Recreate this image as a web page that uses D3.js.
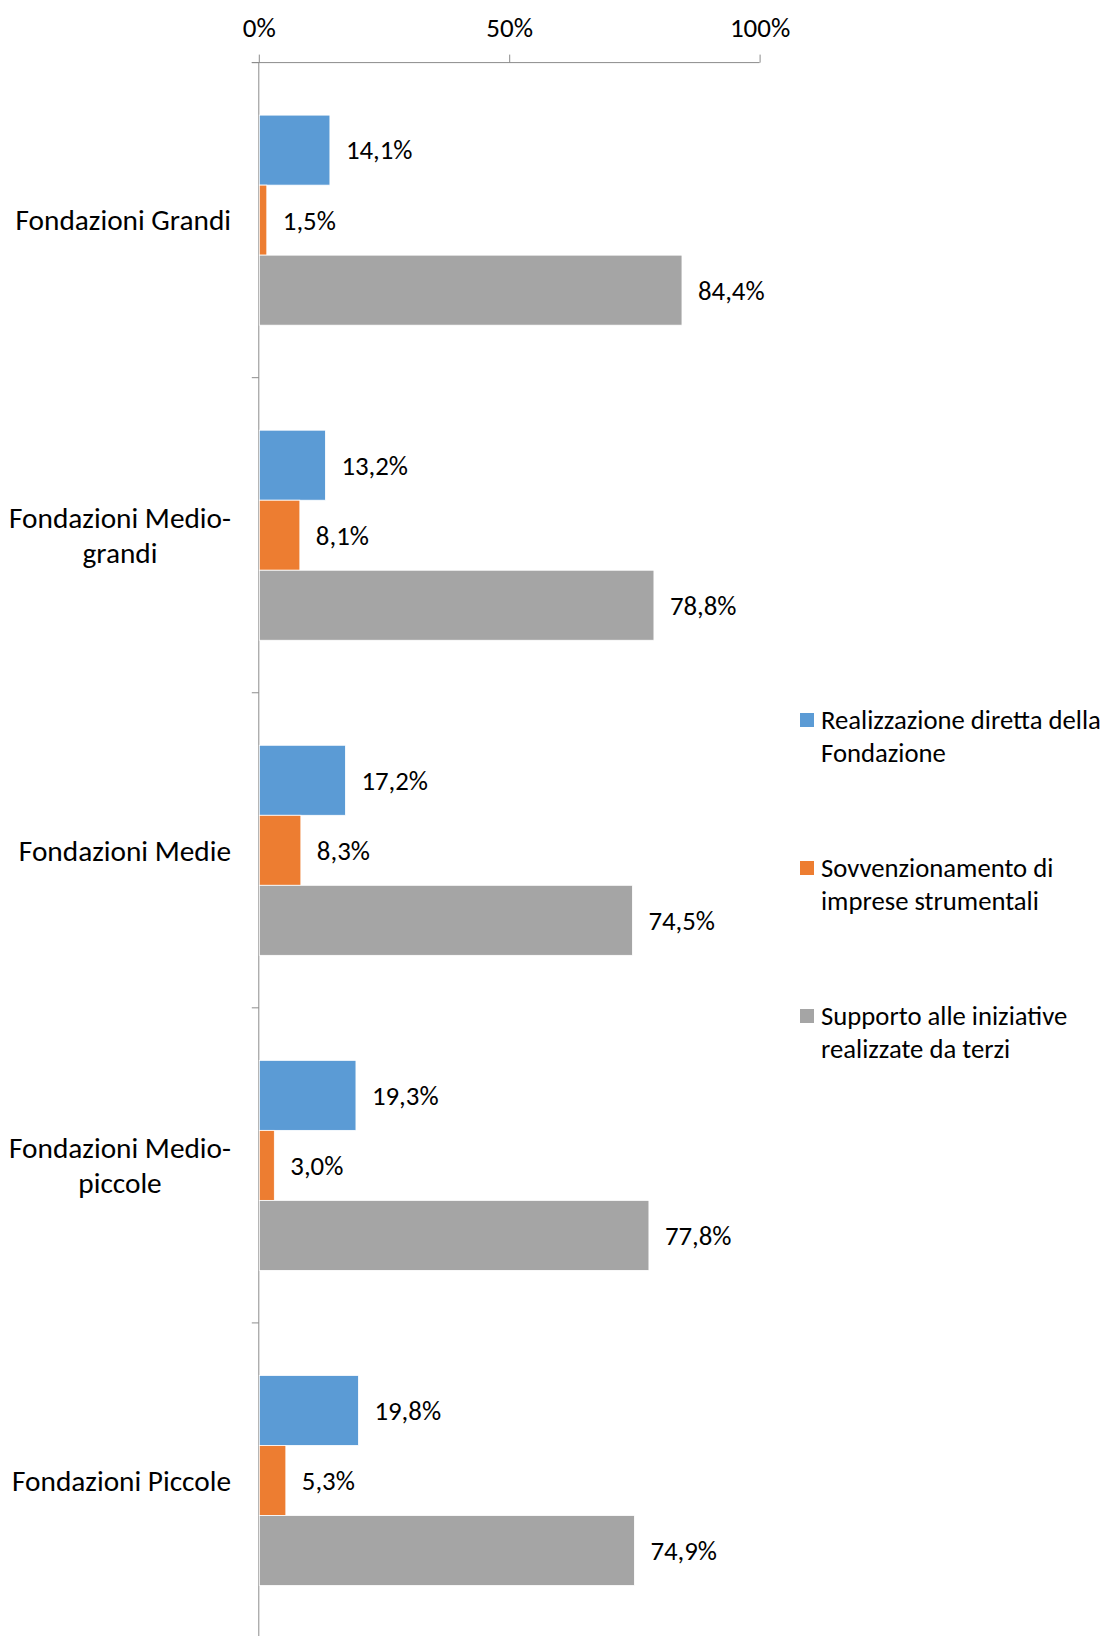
<!DOCTYPE html>
<html><head><meta charset="utf-8">
<script src="https://cdn.jsdelivr.net/npm/d3@7"></script>
<style>body{margin:0;background:#fff}svg{display:block}</style>
</head><body><svg id="c" width="1105" height="1636"></svg>
<script>
const categories = ["Fondazioni Grandi","Fondazioni Medio-grandi","Fondazioni Medie","Fondazioni Medio-piccole","Fondazioni Piccole"];
const categoryLines = [["Fondazioni Grandi"],["Fondazioni Medio-","grandi"],["Fondazioni Medie"],["Fondazioni Medio-","piccole"],["Fondazioni Piccole"]];
const seriesNames = ["Realizzazione diretta della Fondazione","Sovvenzionamento di imprese strumentali","Supporto alle iniziative realizzate da terzi"];
const legendLines = [["Realizzazione diretta della","Fondazione"],["Sovvenzionamento di","imprese strumentali"],["Supporto alle iniziative","realizzate da terzi"]];
const diretta = [14.1,13.2,17.2,19.3,19.8];
const sovvenzionamento = [1.5,8.1,8.3,3.0,5.3];
const supporto = [84.4,78.8,74.5,77.8,74.9];
const tickValues = [0,50,100];
const tickLabels = ["0%","50%","100%"];
const colors = ["#5B9BD5","#ED7D31","#A5A5A5"];

const FONT = "Carlito, Calibri, Lato, sans-serif";
const series = [diretta, sovvenzionamento, supporto];
const svg = d3.select("#c");
const x = d3.scaleLinear().domain([0,100]).range([258.8, 759.6]);
const y = d3.scaleBand().domain(categories).range([62.6, 1638]).paddingInner(1/3).paddingOuter(1/6);
const ys = d3.scaleBand().domain(d3.range(3)).range([0, y.bandwidth()]);
const step = y.step();
const axisColor = "#8c8c8c";
const fmt = v => d3.format(".1f")(v).replace(".", ",") + "%";

// top value axis
const xAxis = d3.axisTop(x).tickValues(tickValues).tickFormat((d,i)=>tickLabels[i]).tickSize(8);
const gx = svg.append("g").attr("transform","translate(0,62.6)").call(xAxis);
gx.select(".domain").attr("stroke",axisColor).attr("d",`M${x(0)-7},0H${x(100)}`);
gx.selectAll(".tick line").attr("stroke",axisColor);
gx.selectAll(".tick text").attr("font-family",FONT).attr("font-size",27).attr("fill","#000")
  .attr("y",-34.6).attr("dy","0.35em");

// vertical category axis line and ticks
svg.append("line").attr("x1",x(0)).attr("x2",x(0)).attr("y1",62.6).attr("y2",1636).attr("stroke",axisColor);
svg.selectAll(".ctick").data(d3.range(categories.length+1)).join("line")
  .attr("x1",x(0)-7).attr("x2",x(0)).attr("y1",i=>62.6+i*step).attr("y2",i=>62.6+i*step).attr("stroke",axisColor);

// bars
const groups = svg.selectAll(".grp").data(categories).join("g").attr("transform",d=>`translate(0,${y(d)})`);
groups.each(function(cat, ci){
  const g = d3.select(this);
  series.forEach((s, si) => {
    g.append("rect").attr("x",x(0)+0.5).attr("y",ys(si)).attr("width",x(s[ci])-x(0)).attr("height",ys.bandwidth())
      .attr("fill",colors[si]).attr("stroke","#fff").attr("stroke-width",0.8);
    g.append("text").attr("x",x(s[ci])+16.5).attr("y",ys(si)+ys.bandwidth()/2).attr("dy","0.35em")
      .attr("font-family",FONT).attr("font-size",26.8).attr("fill","#000").text(fmt(s[ci]));
  });
});

// category labels
const labelRight = 231;
categoryLines.forEach((lines, ci) => {
  const cy = y(categories[ci]) + y.bandwidth()/2;
  const lh = 34.5;
  const t = svg.append("text").attr("font-family",FONT).attr("font-size",29.3).attr("fill","#000");
  const tsp = lines.map((ln, li) => t.append("tspan").attr("y", cy + (li - (lines.length-1)/2)*lh).attr("dy","0.35em").text(ln));
  const widths = tsp.map(s => s.node().getComputedTextLength());
  const maxW = d3.max(widths);
  tsp.forEach((s, li) => s.attr("x", labelRight - maxW/2).attr("text-anchor","middle"));
});

// legend
const legX = 800, legY0 = 720, legStep = 148, legLh = 32.5;
legendLines.forEach((lines, i) => {
  const ly = legY0 + i*legStep;
  svg.append("rect").attr("x",legX).attr("y",ly-7).attr("width",14).attr("height",14).attr("fill",colors[i]);
  const t = svg.append("text").attr("font-family",FONT).attr("font-size",26.7).attr("fill","#000");
  lines.forEach((ln, li) => t.append("tspan").attr("x",legX+21).attr("y",ly+li*legLh).attr("dy","0.35em").text(ln));
});
</script></body></html>
